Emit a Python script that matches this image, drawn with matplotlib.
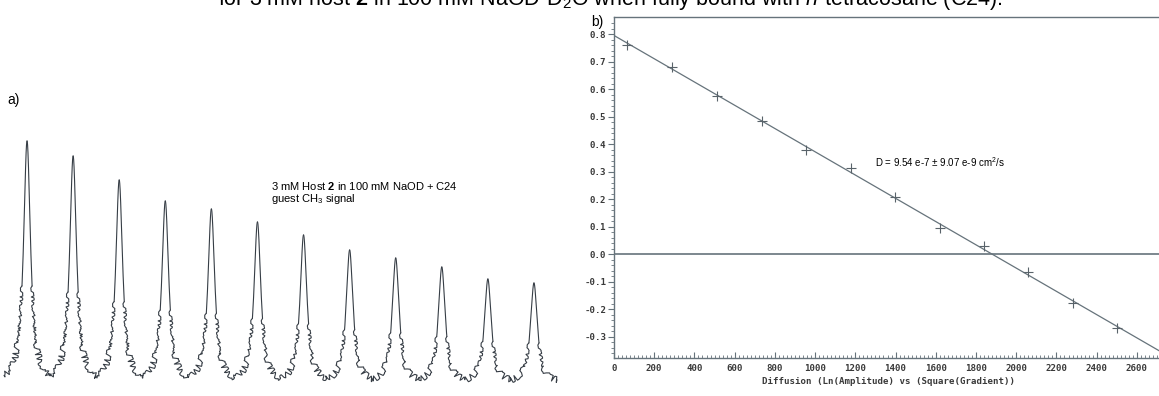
import numpy as np
import matplotlib
matplotlib.use("Agg")
import matplotlib.pyplot as plt

plt.rcParams['font.family'] = ['Liberation Sans', 'DejaVu Sans']
plt.rcParams['mathtext.fontset'] = 'custom'
plt.rcParams['mathtext.rm'] = 'Liberation Sans'
plt.rcParams['mathtext.bf'] = 'Liberation Sans:bold'
plt.rcParams['mathtext.it'] = 'Liberation Sans:italic'

# ---- data ----
# panel a: peak intensities (arbitrary units) of the 12 gradient increments
peak_heights = [242, 227, 203, 182, 174, 161, 148, 133, 125, 116, 104, 100]

# panel b: ln(amplitude) vs square(gradient)
grad_sq = [65, 290, 510, 735, 955, 1180, 1395, 1620, 1840, 2060, 2280, 2500]
ln_amp = [0.760, 0.680, 0.576, 0.485, 0.378, 0.313, 0.208, 0.096, 0.029, -0.067, -0.177, -0.269]

xticks_b = [0, 200, 400, 600, 800, 1000, 1200, 1400, 1600, 1800, 2000, 2200, 2400, 2600]
yticks_b = [-0.3, -0.2, -0.1, 0.0, 0.1, 0.2, 0.3, 0.4, 0.5, 0.6, 0.7, 0.8]

title = ("for 3 mM host $\\mathbf{2}$ in 100 mM NaOD-D$_2$O when fully bound with "
         "$\\mathit{n}$-tetracosane (C24).")
note_a = "3 mM Host $\\mathbf{2}$ in 100 mM NaOD + C24\nguest CH$_3$ signal"
note_b = "D = 9.54 e-7 \u00b1 9.07 e-9 cm$^2$/s"
xlabel_b = "Diffusion (Ln(Amplitude) vs (Square(Gradient))"

W, H = 1159, 396
fig = plt.figure(figsize=(W / 100, H / 100), dpi=100)

def fx(px):
    return px / W

def fy(py):
    return 1 - py / H

# ---- panel a: stacked spectrum segments ----
spec_col = '#363d45'
axa = fig.add_axes([fx(4), 0, fx(553), fy(100)])
axa.set_xlim(0, len(peak_heights))
axa.set_ylim(-13, 283)
axa.axis('off')
hwhm = 0.09
# (start, end, sketch scale) zones of the line shape, in segment units
zones = [(0.0, 0.11, 0.0), (0.11, 0.2, 1.4), (0.2, 0.5, 3.0)]
for i, h in enumerate(peak_heights):
    for a, b, sc in zones:
        for side in (-1, 1):
            uw = side * np.linspace(a, b, 150)
            ln, = axa.plot(i + 0.5 + uw, h / (1 + (uw / hwhm) ** 2), color=spec_col,
                           lw=0.8, clip_on=False, solid_capstyle='round')
            if sc > 0:
                ln.set_sketch_params(scale=sc, length=1.0, randomness=12)

fig.text(fx(7), fy(100), "a)", fontsize=10, ha='left', va='center')
fig.text(fx(271), fy(193), note_a, fontsize=8, ha='left', va='center', linespacing=1.05)

# ---- panel b ----
line_col = '#66737b'
axb = fig.add_axes([fx(614), fy(358), 1 - fx(614), fy(17) - fy(358)])
axb.set_xlim(0, 2710)
axb.set_ylim(-0.378, 0.862)
axb.spines['right'].set_visible(False)
for s in ['left', 'bottom', 'top']:
    axb.spines[s].set_color(line_col)
    axb.spines[s].set_linewidth(1.0)

axb.axhline(0, color=line_col, lw=1.2)
coef = np.polyfit(grad_sq, ln_amp, 1)
xf = np.array([0, 2710])
axb.plot(xf, np.polyval(coef, xf), color=line_col, lw=0.9)
axb.plot(grad_sq, ln_amp, linestyle='none', marker='+', ms=7, mew=0.8, color='#59636a')

axb.set_xticks(xticks_b)
axb.set_yticks(yticks_b)
axb.set_xticks(np.arange(0, 2711, 20), minor=True)
axb.set_yticks(np.arange(-0.36, 0.86, 0.02), minor=True)
axb.set_xticklabels([str(v) for v in xticks_b])
axb.set_yticklabels([f"{v:.1f}" for v in yticks_b])
mono = dict(family='DejaVu Sans Mono', weight='bold', size=6.6)
for lab in axb.get_xticklabels() + axb.get_yticklabels():
    lab.set_fontfamily('DejaVu Sans Mono')
    lab.set_fontweight('bold')
    lab.set_fontsize(6.6)
    lab.set_color('#3a3a3a')
axb.tick_params(axis='y', which='major', direction='out', length=4, width=0.8,
                color=line_col, pad=1.5)
axb.tick_params(axis='y', which='minor', direction='out', length=2.5, width=0.6,
                color=line_col)
axb.tick_params(axis='x', which='major', direction='in', length=4, width=0.8,
                color=line_col, pad=4)
axb.tick_params(axis='x', which='minor', direction='in', length=2.5, width=0.6,
                color=line_col)
axb.set_xlabel(xlabel_b, fontdict=mono, color='#3a3a3a', labelpad=3)
axb.xaxis.set_label_coords((889 - 614) / (W - 614), -0.055)

axb.text(1297, 0.335, note_b, fontsize=7, ha='left', va='center')
fig.text(fx(591), fy(22), "b)", fontsize=10, ha='left', va='center')

fig.text(fx(610), fy(5), title, fontsize=15.5, ha='center', va='baseline')

fig.savefig("out.png", dpi=100)
